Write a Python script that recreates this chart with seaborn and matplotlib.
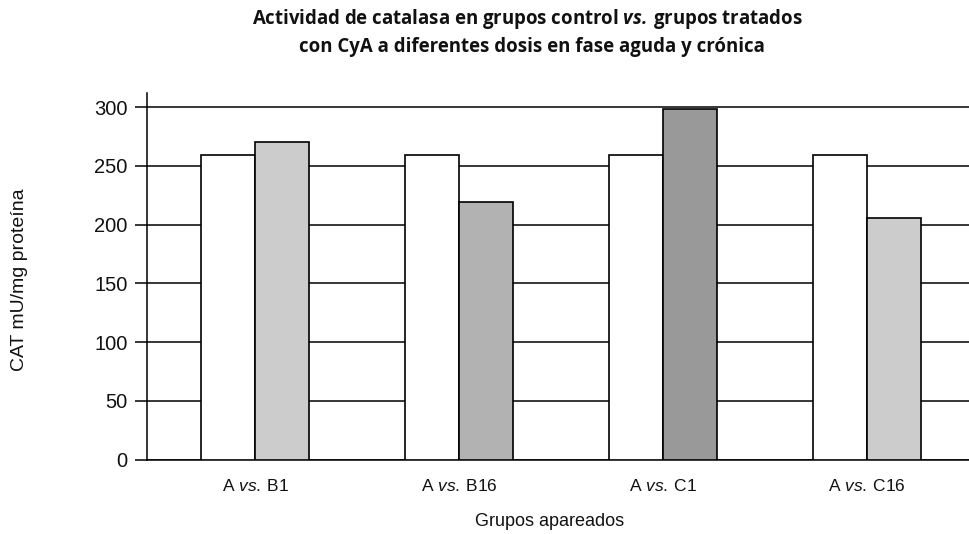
import matplotlib
matplotlib.use("Agg")
import matplotlib.pyplot as plt
import seaborn as sns
import pandas as pd

# ---- data ----
categories = ["A $\\mathit{vs.}\\:$B1", "A $\\mathit{vs.}\\:$B16", "A $\\mathit{vs.}\\:$C1", "A $\\mathit{vs.}\\:$C16"]
control = [259, 259, 259, 259]
treated = [270, 219, 298, 206]
treated_colors = ["#cccccc", "#b2b2b2", "#999999", "#cccccc"]
yticks = [0, 50, 100, 150, 200, 250, 300]

sns.set_theme(style="white")
plt.rcParams["font.family"] = ["Liberation Sans", "DejaVu Sans"]
plt.rcParams["mathtext.fontset"] = "custom"
plt.rcParams["mathtext.it"] = "Liberation Sans:italic"
plt.rcParams["mathtext.rm"] = "Liberation Sans"
plt.rcParams["mathtext.bf"] = "Open Sans:italic:bold"

df = pd.DataFrame({
    "grupo": categories * 2,
    "valor": control + treated,
    "tipo": ["Control"] * 4 + ["Tratado"] * 4,
})

fig = plt.figure(figsize=(9.69, 5.34), dpi=100)
ax = fig.add_axes([147 / 969, (534 - 459.5) / 534, (969 - 147) / 969, (459.5 - 93) / 534])

sns.barplot(data=df, x="grupo", y="valor", hue="tipo", order=categories,
            palette={"Control": "white", "Tratado": "#cccccc"},
            width=0.53, edgecolor="black", linewidth=1.2, ax=ax, legend=False,
            zorder=3)

for patch, c in zip(ax.containers[1].patches, treated_colors):
    patch.set_facecolor(c)

ax.set_xlim(-0.53, 3.5)
ax.set_ylim(0, 312)
ax.set_yticks(yticks)
ax.set_yticklabels([str(v) for v in yticks], fontsize=14.5, color="#111111")
ax.tick_params(axis="y", length=8.6, width=1.1, color="black", pad=5.5, left=True)
ax.tick_params(axis="x", length=0, pad=13, labelsize=12.5, labelcolor="#111111")

ax.grid(axis="y", color="black", linewidth=1.1, zorder=0)
ax.set_axisbelow(True)
for s in ["top", "right"]:
    ax.spines[s].set_visible(False)
ax.spines["left"].set_color("black")
ax.spines["left"].set_linewidth(1.1)
ax.spines["bottom"].set_color("black")
ax.spines["bottom"].set_linewidth(1.1)
ax.set_xlabel("")
ax.set_ylabel("")

fig.text(550 / 969, 1 - 522 / 534, "Grupos apareados", ha="center", va="center",
         fontsize=13, color="#111111")
fig.text(20 / 969, 1 - 280 / 534, "CAT mU/mg proteína", ha="center", va="center",
         rotation=90, fontsize=14, color="#111111")

tfont = dict(family=["Open Sans", "DejaVu Sans"], weight="bold", fontsize=13.4, color="#111111")
fig.text(527 / 969, 1 - 19 / 534, "Actividad de catalasa en grupos control $\\mathbf{vs.}\\:$grupos tratados",
         ha="center", va="center", **tfont)
fig.text(532 / 969, 1 - 47 / 534, "con CyA a diferentes dosis en fase aguda y crónica",
         ha="center", va="center", **tfont)

fig.savefig("out.png", dpi=100)
